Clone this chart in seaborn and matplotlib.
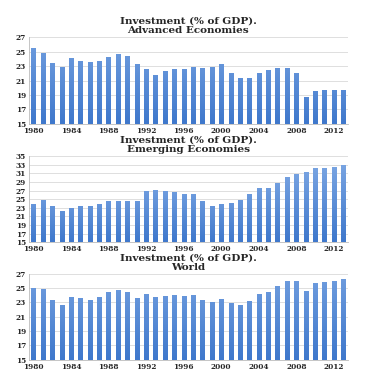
import matplotlib
matplotlib.use("Agg")
import matplotlib.pyplot as plt
from matplotlib.colors import LinearSegmentedColormap
import numpy as np
import pandas as pd
import seaborn as sns

years = list(range(1980, 2014))

advanced = [25.5, 24.8, 23.4, 22.9, 24.1, 23.7, 23.5, 23.7, 24.3, 24.7,
            24.4, 23.3, 22.6, 21.8, 22.25, 22.6, 22.6, 22.9, 22.75, 22.9,
            23.3, 22.1, 21.3, 21.4, 22.0, 22.4, 22.75, 22.75, 22.1, 18.75,
            19.6, 19.75, 19.7, 19.7]

emerging = [23.8, 24.9, 23.5, 22.3, 23.0, 23.5, 23.5, 23.8, 24.5, 24.5,
            24.5, 24.5, 27.0, 27.2, 26.8, 26.7, 26.1, 26.1, 24.5, 23.5,
            23.8, 24.2, 24.8, 26.1, 27.5, 27.6, 28.8, 30.2, 30.9, 31.2,
            32.2, 32.2, 32.4, 32.9]

world = [24.95, 24.8, 23.4, 22.7, 23.75, 23.6, 23.4, 23.7, 24.4, 24.7,
         24.4, 23.65, 24.15, 23.8, 23.9, 24.05, 23.85, 24.05, 23.4, 23.1,
         23.45, 22.85, 22.7, 23.2, 24.2, 24.5, 25.3, 26.0, 26.0, 24.6,
         25.65, 25.8, 26.0, 26.3]

titles = ["Investment (% of GDP).\nAdvanced Economies",
          "Investment (% of GDP).\nEmerging Economies",
          "Investment (% of GDP).\nWorld"]
series = [advanced, emerging, world]
ylims = [(15, 27), (15, 35), (15, 27)]

grad = LinearSegmentedColormap.from_list("blu", ["#3f78cc", "#a9c9f4"])

sns.set_style("white")
plt.rcParams["font.family"] = ["DejaVu Serif"]

fig = plt.figure(figsize=(3.69, 3.78), dpi=100)
# axes boxes in figure fractions (left, bottom, width, height)
boxes = [(0.078, 0.672, 0.865, 0.23),
         (0.078, 0.359, 0.865, 0.228),
         (0.078, 0.048, 0.865, 0.228)]

for box, vals, title, (lo, hi) in zip(boxes, series, titles, ylims):
    ax = fig.add_axes(box)
    df = pd.DataFrame({"year": years, "value": vals})
    sns.barplot(data=df, x="year", y="value", color="#6f9fe2", width=0.45, ax=ax)
    # gradient fill in each bar
    g = np.linspace(0, 1, 100).reshape(-1, 1)
    for p in ax.patches:
        x0, w = p.get_x(), p.get_width()
        h = p.get_height()
        im = ax.imshow(g, extent=[x0, x0 + w, lo, lo + h], origin="lower",
                       aspect="auto", cmap=grad, zorder=3)
        im.set_clip_path(p)
        p.set_facecolor("none")
        p.set_edgecolor("none")
    ax.set_xlim(-0.5, len(years) - 0.5)
    ax.set_ylim(lo, hi)
    ax.set_yticks(np.arange(lo, hi + 1, 2))
    ax.set_xticks(range(0, len(years), 4))
    ax.set_xticklabels([str(y) for y in years[::4]])
    ax.tick_params(axis="both", labelsize=5.3, length=0, pad=2)
    for lbl in ax.get_xticklabels() + ax.get_yticklabels():
        lbl.set_fontweight("bold")
    ax.yaxis.grid(True, color="#d9d9d9", linewidth=0.6)
    ax.set_axisbelow(True)
    for s in ["top", "right"]:
        ax.spines[s].set_visible(False)
    for s in ["left", "bottom"]:
        ax.spines[s].set_color("#bbbbbb")
        ax.spines[s].set_linewidth(0.6)
    ax.set_xlabel("")
    ax.set_ylabel("")
    ax.set_title(title, fontsize=7.5, fontweight="bold", pad=3, linespacing=1.0)

fig.savefig("out.png", dpi=100, facecolor="white")
